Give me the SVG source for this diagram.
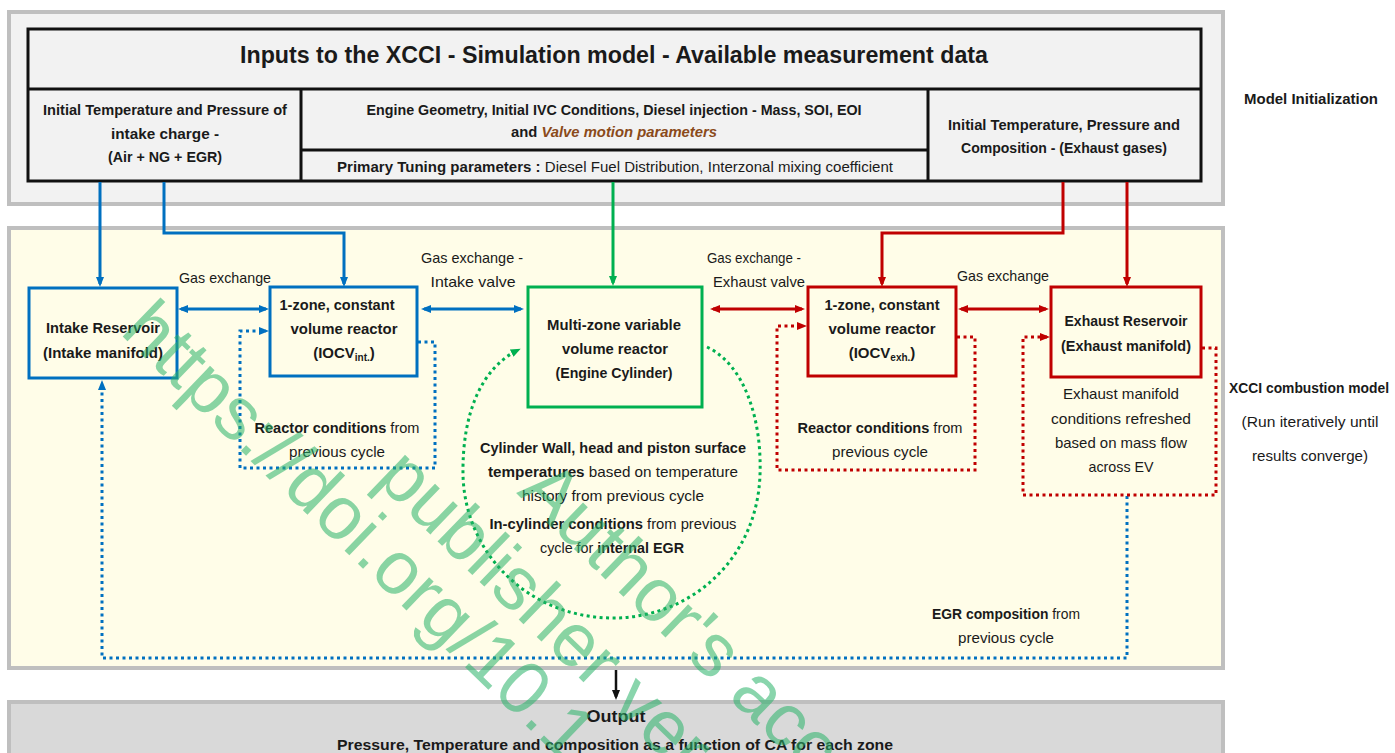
<svg xmlns="http://www.w3.org/2000/svg" width="1395" height="753" viewBox="0 0 1395 753">
<style>
text{font-family:"Liberation Sans",Arial,sans-serif;font-size:15px;fill:#1a1a1a;text-anchor:middle}
.b{font-weight:bold}
.i{font-style:italic;fill:#8a4a1a}
.ttl{font-size:23px;font-weight:bold}
.sub{font-size:10px}
.panel{stroke:#bfbfbf;stroke-width:4}
.cell{fill:none;stroke:#111;stroke-width:3}
.nb{fill:none;stroke:#0070c0;stroke-width:3}
.ng{fill:none;stroke:#00b050;stroke-width:3}
.nr{fill:none;stroke:#c00000;stroke-width:3}
.lb{fill:none;stroke:#0070c0;stroke-width:3}
.lg{fill:none;stroke:#00b050;stroke-width:3}
.lr{fill:none;stroke:#c00000;stroke-width:3}
.lk{fill:none;stroke:#111;stroke-width:2.5}
.dot{stroke-dasharray:3 3.5}
.wm{font-size:75px;fill:#2ab36a;opacity:0.55;text-anchor:start}
</style>
<defs>
<marker id="ab" viewBox="0 0 10 8" refX="7" refY="4" markerWidth="10" markerHeight="8" markerUnits="userSpaceOnUse" orient="auto-start-reverse"><path d="M0,0 L10,4 L0,8 z" fill="#0070c0"/></marker>
<marker id="ag" viewBox="0 0 10 8" refX="7" refY="4" markerWidth="10" markerHeight="8" markerUnits="userSpaceOnUse" orient="auto-start-reverse"><path d="M0,0 L10,4 L0,8 z" fill="#00b050"/></marker>
<marker id="ar" viewBox="0 0 10 8" refX="7" refY="4" markerWidth="10" markerHeight="8" markerUnits="userSpaceOnUse" orient="auto-start-reverse"><path d="M0,0 L10,4 L0,8 z" fill="#c00000"/></marker>
<marker id="ak" viewBox="0 0 10 8" refX="7" refY="4" markerWidth="10" markerHeight="8" markerUnits="userSpaceOnUse" orient="auto-start-reverse"><path d="M0,0 L10,4 L0,8 z" fill="#111"/></marker>
</defs>

<!-- panels -->
<rect class="panel" x="9" y="12" width="1214" height="192" fill="#f2f2f2"/>
<rect class="panel" x="9" y="228" width="1214" height="440" fill="#fffde8"/>
<rect class="panel" x="9" y="702" width="1214" height="60" fill="#d9d9d9"/>

<g id="inputs">
<rect class="cell" x="28" y="29" width="1173" height="152"/>
<line class="cell" x1="28" y1="89" x2="1201" y2="89"/>
<line class="cell" x1="301" y1="89" x2="301" y2="181"/>
<line class="cell" x1="928" y1="89" x2="928" y2="181"/>
<line class="cell" x1="301" y1="150" x2="928" y2="150"/>
<text class="ttl" x="614" y="63" textLength="748" lengthAdjust="spacingAndGlyphs">Inputs to the XCCI - Simulation model - Available measurement data</text>
<text class="b" x="165" y="115" textLength="244" lengthAdjust="spacingAndGlyphs">Initial Temperature and Pressure of</text>
<text class="b" x="165" y="139" textLength="108" lengthAdjust="spacingAndGlyphs">intake charge -</text>
<text class="b" x="165" y="162" textLength="114" lengthAdjust="spacingAndGlyphs">(Air + NG + EGR)</text>
<text class="b" x="614" y="115" textLength="495" lengthAdjust="spacingAndGlyphs">Engine Geometry, Initial IVC Conditions, Diesel injection - Mass, SOI, EOI</text>
<text class="b" x="614" y="137" textLength="206" lengthAdjust="spacingAndGlyphs">and <tspan class="i">Valve motion parameters</tspan></text>
<text x="615" y="172" textLength="556" lengthAdjust="spacingAndGlyphs"><tspan class="b">Primary Tuning parameters :</tspan> Diesel Fuel Distribution, Interzonal mixing coefficient</text>
<text class="b" x="1064" y="130" textLength="232" lengthAdjust="spacingAndGlyphs">Initial Temperature, Pressure and</text>
<text class="b" x="1064" y="153" textLength="206" lengthAdjust="spacingAndGlyphs">Composition - (Exhaust gases)</text>
</g>

<text class="b" x="1311" y="104" textLength="134" lengthAdjust="spacingAndGlyphs">Model Initialization</text>

<g id="intake-reservoir">
<rect class="nb" x="29" y="288" width="148" height="90"/>
<text class="b" x="103" y="333" textLength="114" lengthAdjust="spacingAndGlyphs">Intake Reservoir</text>
<text class="b" x="103" y="358" textLength="120" lengthAdjust="spacingAndGlyphs">(Intake manifold)</text>
</g>

<g id="iocv-int">
<rect class="nb" x="270" y="287" width="147" height="89"/>
<text class="b" x="337" y="310" textLength="115" lengthAdjust="spacingAndGlyphs">1-zone, constant</text>
<text class="b" x="344" y="334" textLength="107" lengthAdjust="spacingAndGlyphs">volume reactor</text>
<text class="b" x="344" y="358">(IOCV<tspan class="sub" dy="3">int.</tspan><tspan dy="-3">)</tspan></text>
</g>

<g id="engine-cylinder">
<rect class="ng" x="528" y="287" width="174" height="120"/>
<text class="b" x="614" y="330" textLength="134" lengthAdjust="spacingAndGlyphs">Multi-zone variable</text>
<text class="b" x="615" y="354" textLength="106" lengthAdjust="spacingAndGlyphs">volume reactor</text>
<text class="b" x="614" y="378" textLength="117" lengthAdjust="spacingAndGlyphs">(Engine Cylinder)</text>
</g>

<g id="iocv-exh">
<rect class="nr" x="808" y="287" width="148" height="89"/>
<text class="b" x="882" y="310" textLength="115" lengthAdjust="spacingAndGlyphs">1-zone, constant</text>
<text class="b" x="882" y="334" textLength="107" lengthAdjust="spacingAndGlyphs">volume reactor</text>
<text class="b" x="882" y="358">(IOCV<tspan class="sub" dy="3">exh.</tspan><tspan dy="-3">)</tspan></text>
</g>

<g id="exhaust-reservoir">
<rect class="nr" x="1051" y="287" width="150" height="90"/>
<text class="b" x="1126" y="326" textLength="123" lengthAdjust="spacingAndGlyphs">Exhaust Reservoir</text>
<text class="b" x="1126" y="351" textLength="130" lengthAdjust="spacingAndGlyphs">(Exhaust manifold)</text>
</g>

<g id="connectors">
<path class="lb" d="M100 182 V284" marker-end="url(#ab)"/>
<path class="lb" d="M164 182 V233 H344 V284" marker-end="url(#ab)"/>
<path class="lg" d="M613 182 V283" marker-end="url(#ag)"/>
<path class="lr" d="M1063 182 V233 H882 V284" marker-end="url(#ar)"/>
<path class="lr" d="M1127 182 V284" marker-end="url(#ar)"/>
<path class="lb" d="M181 309 H266" marker-start="url(#ab)" marker-end="url(#ab)"/>
<path class="lb" d="M424 309 H521" marker-start="url(#ab)" marker-end="url(#ab)"/>
<path class="lr" d="M713 309 H802" marker-start="url(#ar)" marker-end="url(#ar)"/>
<path class="lr" d="M961 309 H1046" marker-start="url(#ar)" marker-end="url(#ar)"/>
<path class="lk" d="M616 670 V697" marker-end="url(#ak)"/>
<path class="lb dot" d="M418 342 H435 V468 H240 V331 H266" marker-end="url(#ab)"/>
<path class="lb dot" d="M1127 496 V658 H102 V383" marker-end="url(#ab)"/>
<path class="lr dot" d="M957 337 H975 V470 H777 V326 H804" marker-end="url(#ar)"/>
<path class="lr dot" d="M1202 348 H1216 V495 H1023 V337 H1047" marker-end="url(#ar)"/>
<path class="lg dot" d="M707 347 C745 365 762 420 760 475 C757 560 690 618 613 618 C530 618 465 555 463 475 C462 412 482 368 518 350" marker-end="url(#ag)"/>
<text x="225" y="283" textLength="92" lengthAdjust="spacingAndGlyphs">Gas exchange</text>
<text x="472" y="263" textLength="102" lengthAdjust="spacingAndGlyphs">Gas exchange -</text>
<text x="473" y="287" textLength="85" lengthAdjust="spacingAndGlyphs">Intake valve</text>
<text x="754" y="263" textLength="94" lengthAdjust="spacingAndGlyphs">Gas exchange -</text>
<text x="759" y="287" textLength="92" lengthAdjust="spacingAndGlyphs">Exhaust valve</text>
<text x="1003" y="281" textLength="92" lengthAdjust="spacingAndGlyphs">Gas exchange</text>
<text x="337" y="433" textLength="165" lengthAdjust="spacingAndGlyphs"><tspan class="b">Reactor conditions</tspan> from</text>
<text x="337" y="457" textLength="96" lengthAdjust="spacingAndGlyphs">previous cycle</text>
<text x="880" y="433" textLength="165" lengthAdjust="spacingAndGlyphs"><tspan class="b">Reactor conditions</tspan> from</text>
<text x="880" y="457" textLength="96" lengthAdjust="spacingAndGlyphs">previous cycle</text>
<text class="b" x="613" y="453" textLength="266" lengthAdjust="spacingAndGlyphs">Cylinder Wall, head and piston surface</text>
<text x="613" y="477" textLength="250" lengthAdjust="spacingAndGlyphs"><tspan class="b">temperatures</tspan> based on temperature</text>
<text x="613" y="501" textLength="182" lengthAdjust="spacingAndGlyphs">history from previous cycle</text>
<text x="613" y="529" textLength="247" lengthAdjust="spacingAndGlyphs"><tspan class="b">In-cylinder conditions</tspan> from previous</text>
<text x="612" y="553" textLength="144" lengthAdjust="spacingAndGlyphs">cycle for <tspan class="b">internal EGR</tspan></text>
<text x="1121" y="399" textLength="116" lengthAdjust="spacingAndGlyphs">Exhaust manifold</text>
<text x="1121" y="424" textLength="140" lengthAdjust="spacingAndGlyphs">conditions refreshed</text>
<text x="1121" y="448" textLength="132" lengthAdjust="spacingAndGlyphs">based on mass flow</text>
<text x="1121" y="472" textLength="65" lengthAdjust="spacingAndGlyphs">across EV</text>
<text x="1006" y="619" textLength="148" lengthAdjust="spacingAndGlyphs"><tspan class="b">EGR composition</tspan> from</text>
<text x="1006" y="643" textLength="96" lengthAdjust="spacingAndGlyphs">previous cycle</text>
</g>

<text class="b" x="1309" y="393" textLength="160" lengthAdjust="spacingAndGlyphs">XCCI combustion model</text>
<text x="1310" y="427" textLength="137" lengthAdjust="spacingAndGlyphs">(Run iteratively until</text>
<text x="1310" y="461" textLength="116" lengthAdjust="spacingAndGlyphs">results converge)</text>

<g id="output">
<text class="b" x="616" y="722" style="font-size:16px" textLength="59" lengthAdjust="spacingAndGlyphs">Output</text>
<text class="b" x="615" y="750" textLength="556" lengthAdjust="spacingAndGlyphs">Pressure, Temperature and composition as a function of CA for each zone</text>
</g>

<g id="watermark">
<text class="wm" transform="translate(119,333) rotate(44)">https://doi.org/10.1</text>
<text class="wm" transform="translate(374,480) rotate(44)">publisher ver</text>
<text class="wm" transform="translate(516,493) rotate(44)">Author's acc</text>
</g>
</svg>
